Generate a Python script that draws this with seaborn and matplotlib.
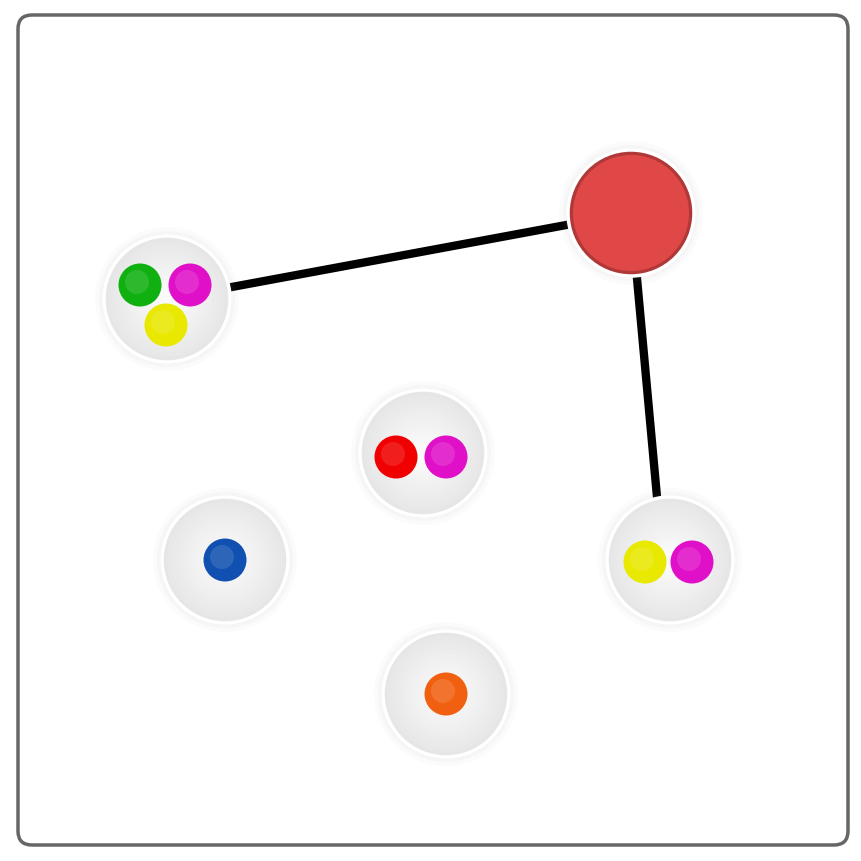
import matplotlib
matplotlib.use('Agg')
import matplotlib.pyplot as plt
import seaborn as sns
from matplotlib.patches import Circle, FancyBboxPatch
import numpy as np

sns.set_theme(style='white')

# group nodes (pixel coordinates of the reference)
group_x = [167, 423, 225, 670, 446]
group_y = [299, 453, 560, 560, 694]
# member dots
dot_x = [140, 190, 166, 396, 446, 225, 645, 692, 446]
dot_y = [285, 285, 325, 457, 457, 560, 562, 562, 694]
dot_colors = ['#10b010', '#e010c8', '#e8e800', '#f00000', '#e010c8',
              '#1050b0', '#e8e800', '#e010c8', '#f06010']
# hub node
hub_x, hub_y = 631, 213
# edges: (from, to)
edge_from = [(167, 299), (631, 213)]
edge_to = [(631, 213), (657, 497)]

fig = plt.figure(figsize=(8.61, 8.61), dpi=100)
ax = fig.add_axes([0, 0, 1, 1])
ax.set_xlim(0, 861)
ax.set_ylim(861, 0)
ax.set_aspect('equal')
ax.axis('off')

ax.add_patch(FancyBboxPatch((18, 15), 830, 830, boxstyle='round,pad=0,rounding_size=14',
                            fc='white', ec='#666666', lw=2.5, zorder=0))

for (x0, y0), (x1, y1) in zip(edge_from, edge_to):
    sns.lineplot(x=[x0, x1], y=[y0, y1], color='black', lw=6, ax=ax, zorder=1, sort=False)

for gx, gy in zip(group_x, group_y):
    # soft shadow
    for r, a in [(72, 0.03), (68, 0.05), (65, 0.07)]:
        ax.add_patch(Circle((gx, gy), r, fc='#999999', alpha=a, ec='none', zorder=2))
    ax.add_patch(Circle((gx, gy), 63, fc='#e6e6e6', ec='white', lw=2.5, zorder=3))
    for r, c in zip(np.linspace(58, 10, 12), np.linspace(0.91, 0.98, 12)):
        ax.add_patch(Circle((gx, gy), r, fc=(c, c, c), ec='none', zorder=3))

for r, a in [(72, 0.03), (68, 0.05), (65, 0.07)]:
    ax.add_patch(Circle((hub_x, hub_y), r, fc='#999999', alpha=a, ec='none', zorder=2))
ax.add_patch(Circle((hub_x, hub_y), 63, fc='#b03838', ec='white', lw=2.5, zorder=3))
ax.add_patch(Circle((hub_x, hub_y), 58, fc='#e04848', ec='none', zorder=3))

for x, y, c in zip(dot_x, dot_y, dot_colors):
    ax.add_patch(Circle((x, y), 21.5, fc=c, ec='none', zorder=4))
    ax.add_patch(Circle((x - 3, y - 3), 12, fc='white', alpha=0.12, ec='none', zorder=5))

fig.savefig('out.png', dpi=100)
